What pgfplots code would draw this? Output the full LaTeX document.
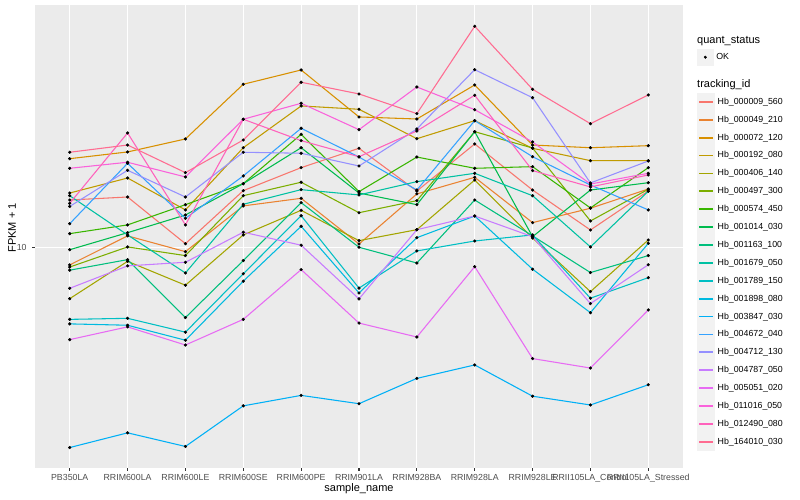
\documentclass[border=0pt]{standalone}
\usepackage{fontspec}
\setmainfont{Liberation Sans}
\usepackage{pgfplots}
\pgfplotsset{compat=1.18}
\usepackage{pgfplotstable}
\definecolor{c1}{HTML}{F8766D}
\definecolor{c2}{HTML}{EA8331}
\definecolor{c3}{HTML}{D89000}
\definecolor{c4}{HTML}{C09B00}
\definecolor{c5}{HTML}{A3A500}
\definecolor{c6}{HTML}{7CAE00}
\definecolor{c7}{HTML}{39B600}
\definecolor{c8}{HTML}{00BB4E}
\definecolor{c9}{HTML}{00BF7D}
\definecolor{c10}{HTML}{00C1A3}
\definecolor{c11}{HTML}{00BFC4}
\definecolor{c12}{HTML}{00BAE0}
\definecolor{c13}{HTML}{00B0F6}
\definecolor{c14}{HTML}{35A2FF}
\definecolor{c15}{HTML}{9590FF}
\definecolor{c16}{HTML}{C77CFF}
\definecolor{c17}{HTML}{E76BF3}
\definecolor{c18}{HTML}{FA62DB}
\definecolor{c19}{HTML}{FF62BC}
\definecolor{c20}{HTML}{FF6C91}
\definecolor{ggbg}{HTML}{EBEBEB}
\definecolor{ggkey}{HTML}{F2F2F2}
\definecolor{ggtext}{HTML}{4D4D4D}
\definecolor{ggtick}{HTML}{333333}

\pgfplotstableread{
x s1 s2 s3 s4 s5 s6 s7 s8 s9 s10 s11 s12 s13 s14 s15 s16 s17 s18 s19 s20
0 13.18 9.07 16.72 13.72 7.47 8.96 10.86 9.90 8.80 13.51 6.63 6.46 3.17 11.50 12.70 7.93 5.90 15.82 12.93 17.35
1 13.41 10.72 17.38 14.96 9.26 10.06 11.42 10.92 9.35 10.78 6.67 6.41 3.45 16.28 15.64 9.02 6.35 16.38 19.39 18.09
2 10.25 9.79 18.73 12.45 8.07 9.57 12.83 12.09 6.70 8.66 6.16 5.88 3.19 11.86 13.41 9.21 5.72 15.05 11.42 15.43
3 13.91 12.74 25.66 17.81 10.78 13.51 14.48 14.48 9.30 12.86 8.62 8.26 4.03 15.14 17.35 10.95 6.63 20.98 20.98 18.62
4 15.88 13.31 27.86 22.65 12.42 14.60 19.24 17.81 12.98 13.99 12.04 11.33 4.28 19.92 17.25 10.16 8.83 23.00 18.55 25.96
5 17.75 10.23 21.26 22.22 10.43 12.25 13.83 13.72 10.04 13.57 7.94 7.72 4.08 16.88 16.03 7.46 6.49 19.76 16.91 24.27
6 13.88 13.65 21.01 18.76 11.11 13.13 16.88 12.83 9.17 14.65 9.83 10.61 4.72 13.96 19.84 11.11 5.99 25.26 19.61 21.67
7 18.20 15.02 25.56 20.81 14.79 19.53 15.82 19.53 13.18 15.37 10.41 12.02 5.10 20.81 27.91 12.02 8.98 22.17 24.09 35.83
8 13.96 11.57 18.09 17.75 10.59 17.78 15.97 10.67 10.72 13.51 10.78 8.85 4.26 16.91 23.75 10.67 5.29 18.41 15.61 24.93
9 11.09 12.57 17.81 16.53 7.78 11.68 12.59 13.96 8.68 10.06 7.49 6.89 4.05 14.37 14.54 7.26 5.01 14.45 14.21 20.45
10 13.88 14.04 18.02 16.53 10.47 14.02 15.88 14.56 9.57 13.86 8.43 10.27 4.55 12.45 16.50 9.08 7.00 15.37 15.22 24.13
}\fpkm

\begin{document}
\begin{tikzpicture}
\useasboundingbox (0pt,0pt) rectangle (800pt,500pt);
\begin{axis}[
  at={(35pt,32pt)}, anchor=south west,
  width=648pt, height=463pt, scale only axis,
  xmin=-0.6, xmax=10.6,
  ymode=log, ymin=2.818, ymax=40.5,
  xtick={0,1,2,3,4,5,6,7,8,9,10},
  xticklabels={PB350LA,RRIM600LA,RRIM600LE,RRIM600SE,RRIM600PE,RRIM901LA,RRIM928BA,RRIM928LA,RRIM928LE,RRII105LA\_Control,RRII105LA\_Stressed},
  ytick={10}, yticklabels={10},
  yminorticks=false, minor ytick={},
  axis background/.style={fill=ggbg},
  axis line style={draw=none},
  grid=major, major grid style={white, line width=1.07pt},
  tick pos=left, tick align=outside, major tick length=2.75pt,
  every tick/.style={ggtick, line width=1.07pt},
  tick label style={font=\fontsize{8.8}{10}\selectfont, text=ggtext},
  xticklabel style={inner sep=0pt, anchor=north, yshift=-3.6pt},
  yticklabel style={inner sep=0pt, anchor=east, xshift=-5.5pt},
  xlabel={sample\_name},
  xlabel style={at={(axis description cs:0.5,-0.0508)}, anchor=base, font=\fontsize{11}{13}\selectfont},
  ylabel={FPKM + 1},
  ylabel style={at={(axis description cs:-0.0355,0.5184)}, anchor=center, font=\fontsize{11}{13}\selectfont},
  legend cell align=left,
  legend style={at={(rel axis cs:1.0216,0.81015)}, anchor=north west, draw=none, fill=none,
    inner sep=0pt, outer sep=0pt, row sep=-0.09pt, column sep=2.7pt,
    font=\fontsize{8.8}{10}\selectfont, nodes={inner sep=0pt}},
  legend image code/.code={
    \fill[ggkey] (0pt,-8.14pt) rectangle (16.28pt,8.14pt);
    \draw[#1] (1.5pt,0pt) -- (14.8pt,0pt);
  },
]
\pgfplotsinvokeforeach{1,...,20}{
  \addplot[color=c#1, line width=1.07pt, forget plot] table[x=x, y=s#1]{\fpkm};
}
\pgfplotsinvokeforeach{1,...,20}{
  \addplot[only marks, mark=*, mark size=1.4pt, mark options={draw=black, fill=black}, forget plot] table[x=x, y=s#1]{\fpkm};
}
\addlegendimage{color=c1, line width=1.7pt}\addlegendentry{Hb\_000009\_560}
\addlegendimage{color=c2, line width=1.7pt}\addlegendentry{Hb\_000049\_210}
\addlegendimage{color=c3, line width=1.7pt}\addlegendentry{Hb\_000072\_120}
\addlegendimage{color=c4, line width=1.7pt}\addlegendentry{Hb\_000192\_080}
\addlegendimage{color=c5, line width=1.7pt}\addlegendentry{Hb\_000406\_140}
\addlegendimage{color=c6, line width=1.7pt}\addlegendentry{Hb\_000497\_300}
\addlegendimage{color=c7, line width=1.7pt}\addlegendentry{Hb\_000574\_450}
\addlegendimage{color=c8, line width=1.7pt}\addlegendentry{Hb\_001014\_030}
\addlegendimage{color=c9, line width=1.7pt}\addlegendentry{Hb\_001163\_100}
\addlegendimage{color=c10, line width=1.7pt}\addlegendentry{Hb\_001679\_050}
\addlegendimage{color=c11, line width=1.7pt}\addlegendentry{Hb\_001789\_150}
\addlegendimage{color=c12, line width=1.7pt}\addlegendentry{Hb\_001898\_080}
\addlegendimage{color=c13, line width=1.7pt}\addlegendentry{Hb\_003847\_030}
\addlegendimage{color=c14, line width=1.7pt}\addlegendentry{Hb\_004672\_040}
\addlegendimage{color=c15, line width=1.7pt}\addlegendentry{Hb\_004712\_130}
\addlegendimage{color=c16, line width=1.7pt}\addlegendentry{Hb\_004787\_050}
\addlegendimage{color=c17, line width=1.7pt}\addlegendentry{Hb\_005051\_020}
\addlegendimage{color=c18, line width=1.7pt}\addlegendentry{Hb\_011016\_050}
\addlegendimage{color=c19, line width=1.7pt}\addlegendentry{Hb\_012490\_080}
\addlegendimage{color=c20, line width=1.7pt}\addlegendentry{Hb\_164010\_030}
\end{axis}
\begin{axis}[
  at={(35pt,32pt)}, anchor=south west,
  width=648pt, height=463pt, scale only axis,
  hide axis, xmin=0, xmax=1, ymin=0, ymax=1,
  legend cell align=left,
  legend style={at={(rel axis cs:1.0216,0.9052)}, anchor=north west, draw=none, fill=none,
    inner sep=0pt, outer sep=0pt, column sep=2.7pt,
    font=\fontsize{8.8}{10}\selectfont, nodes={inner sep=0pt}},
  legend image code/.code={
    \fill[ggkey] (0pt,-8.14pt) rectangle (16.28pt,8.14pt);
    \draw[#1] plot coordinates {(8.14pt,0pt)};
  },
]
\addlegendimage{only marks, mark=*, mark size=1.3pt, mark options={draw=black, fill=black}}
\addlegendentry{OK}
\end{axis}
\node[anchor=base west, inner sep=0pt, font=\fontsize{11}{13}\selectfont] at (697pt,456pt) {quant\_status};
\node[anchor=base west, inner sep=0pt, font=\fontsize{11}{13}\selectfont] at (697pt,412pt) {tracking\_id};
\end{tikzpicture}
\end{document}
